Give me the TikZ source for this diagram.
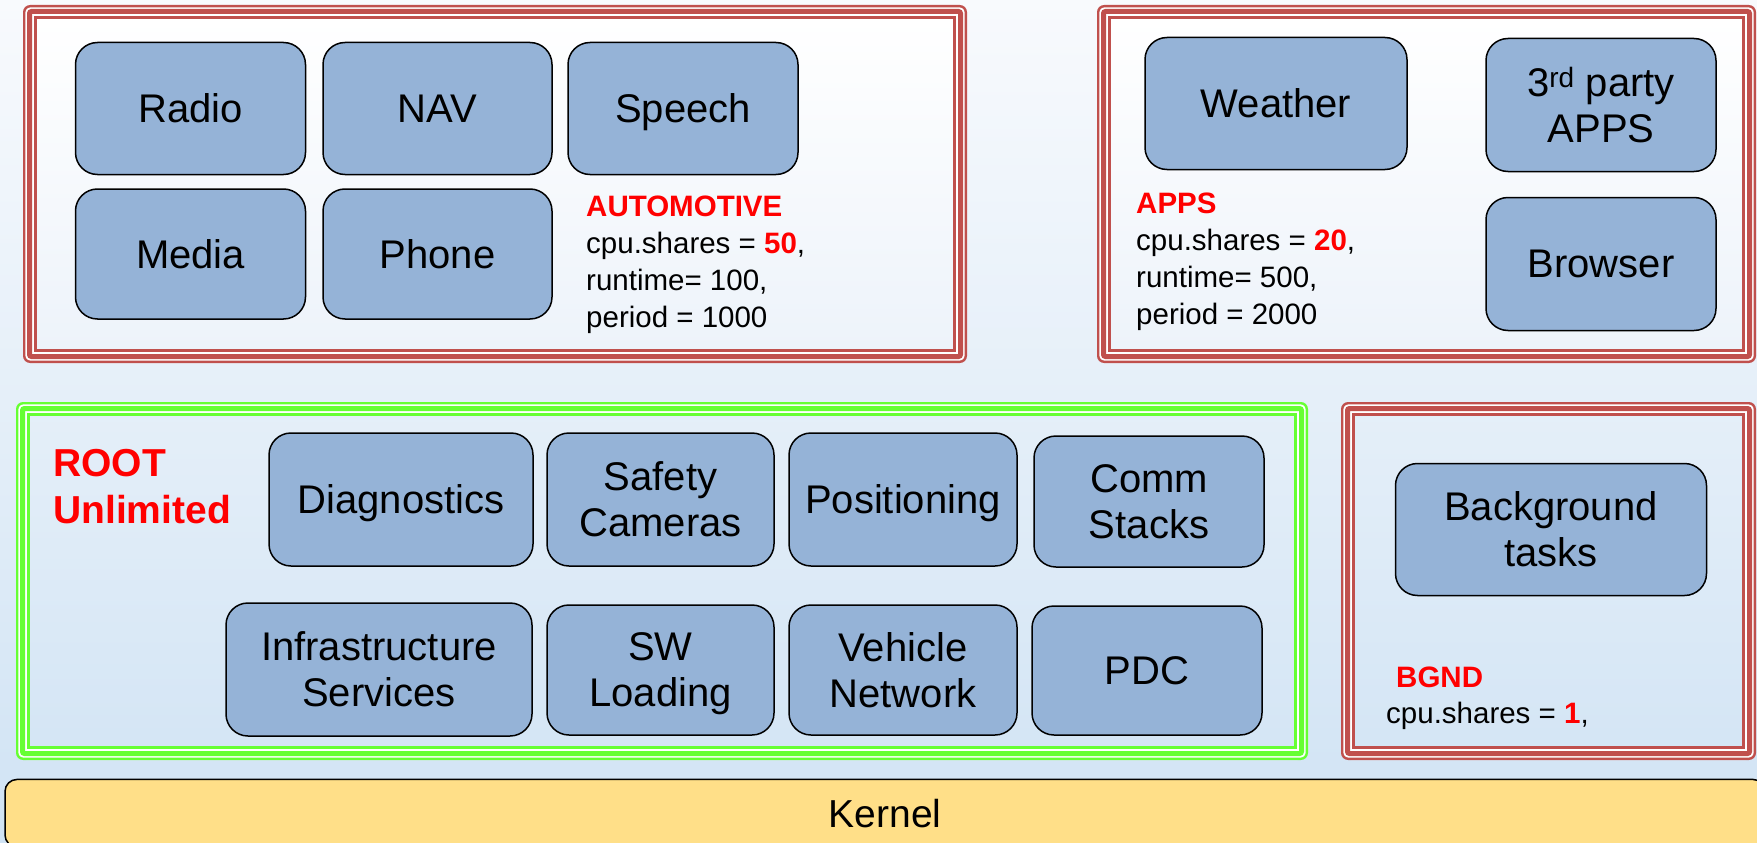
\documentclass[tikz,border=0pt]{standalone}
\usepackage{fontspec}
\setmainfont{Liberation Sans}
\usetikzlibrary{positioning}

\definecolor{bgtop}{HTML}{F8FAFD}
\definecolor{bgbottom}{HTML}{D0E3F4}
\definecolor{panelbottom}{HTML}{EDF3FA}
\definecolor{boxblue}{HTML}{95B3D7}
\definecolor{framered}{HTML}{C0504D}
\definecolor{framegreen}{HTML}{66FF33}
\definecolor{kernelyellow}{HTML}{FFDF88}
\definecolor{alertred}{HTML}{FF0000}

% three concentric lines round a group: x1 y1 x2 y2 colour
\newcommand{\tripleframe}[5]{%
  \draw[white, line width=13.6pt, rounded corners=5pt] ({#1+6.8},{#2+6.8}) rectangle ({#3-6.8},{#4-6.8});
  \draw[#5, line width=2.4pt, rounded corners=6pt] ({#1+1.2},{#2+1.2}) rectangle ({#3-1.2},{#4-1.2});
  \draw[#5, line width=5pt, rounded corners=2pt] ({#1+6.5},{#2+6.5}) rectangle ({#3-6.5},{#4-6.5});
  \draw[#5, line width=2.6pt] ({#1+12.3},{#2+12.3}) rectangle ({#3-12.3},{#4-12.3});
}

\begin{document}
\begin{tikzpicture}[x=1pt, y=-1pt,
  appbox/.style={draw=black, line width=1.5pt, fill=boxblue, rounded corners=22pt,
    align=center, inner sep=0pt, font=\fontsize{40}{46}\selectfont},
  flatbase/.style={text depth=0pt},
  infotext/.style={inner sep=0pt, align=left, anchor=north west,
    font=\fontsize{29.5}{37}\selectfont},
  grouptitle/.style={inner sep=0pt, anchor=base west, text=alertred,
    font=\fontsize{29.5}{37}\selectfont\bfseries},
  kernelbar/.style={draw=black, line width=1.5pt, fill=kernelyellow, rounded corners=12pt,
    inner sep=0pt, font=\fontsize{39}{46}\selectfont}
]
\useasboundingbox (0,0) rectangle (1757,843);

% backdrop
\shade[top color=bgtop, bottom color=bgbottom] (0,0) rectangle (1757,843);

% group frames
\shade[top color=white, bottom color=panelbottom] (36,18) rectangle (954,350);
\shade[top color=white, bottom color=panelbottom] (1110,18) rectangle (1742,350);
\tripleframe{23}{5}{967}{363}{framered}
\tripleframe{1097}{5}{1756}{363}{framered}
\tripleframe{16}{402}{1308}{760}{framegreen}
\tripleframe{1341}{402}{1756}{760}{framered}

% AUTOMOTIVE group
\node[appbox, minimum width=230pt, minimum height=132pt] (radio)  at (190.5,108.5) {Radio};
\node[appbox, minimum width=229pt, minimum height=132pt] (nav)    at (437.5,108.5) {NAV};
\node[appbox, flatbase, minimum width=230pt, minimum height=132pt] (speech) at (683,108.5) {Speech};
\node[appbox, minimum width=230pt, minimum height=130pt] (media)  at (190.5,254) {Media};
\node[appbox, minimum width=229pt, minimum height=130pt] (phone)  at (437.5,254) {Phone};
\node[infotext] (autoinfo) at (586,196)
  {\textcolor{alertred}{\textbf{AUTOMOTIVE}}\\
   cpu.shares = \textcolor{alertred}{\textbf{50}},\\
   runtime= 100,\\
   period = 1000};

% APPS group
\node[appbox, minimum width=262pt, minimum height=132pt] (weather) at (1276,103.5) {Weather};
\node[appbox, minimum width=230pt, minimum height=133pt] (thirdparty) at (1601,105) {3\textsuperscript{rd} party\\APPS};
\node[appbox, minimum width=230pt, minimum height=133pt] (browser) at (1601,264) {Browser};
\node[infotext] (appsinfo) at (1136,192.5)
  {\textcolor{alertred}{\textbf{APPS}}\\
   cpu.shares = \textcolor{alertred}{\textbf{20}},\\
   runtime= 500,\\
   period = 2000};

% ROOT group
\node[inner sep=0pt, anchor=north west, align=left, text=alertred,
  font=\fontsize{39}{47}\selectfont\bfseries] (rootinfo) at (53,449) {ROOT\\Unlimited};
\node[appbox, flatbase, minimum width=264pt, minimum height=133pt] (diag) at (401,499.5) {Diagnostics};
\node[appbox, minimum width=227pt, minimum height=133pt] (safety) at (660.5,499.5) {Safety\\Cameras};
\node[appbox, flatbase, minimum width=228pt, minimum height=133pt] (posn) at (903,499.5) {Positioning};
\node[appbox, minimum width=230pt, minimum height=131pt] (comm) at (1149,501.5) {Comm\\Stacks};
\node[appbox, minimum width=306pt, minimum height=133pt] (infra) at (379,669.5) {Infrastructure\\Services};
\node[appbox, flatbase, minimum width=227pt, minimum height=130pt] (swload) at (660.5,670) {SW\\Loading};
\node[appbox, minimum width=228pt, minimum height=130pt] (vnet) at (903,670) {Vehicle\\Network};
\node[appbox, minimum width=230pt, minimum height=129pt] (pdc) at (1147,670.5) {PDC};

% BGND group
\node[appbox, minimum width=311pt, minimum height=132pt] (bgtasks) at (1551,529.5) {Background\\tasks};
\node[grouptitle] (bgndtitle) at (1396,687) {BGND};
\node[inner sep=0pt, anchor=base west, font=\fontsize{29.5}{37}\selectfont] (bgndinfo) at (1386,723)
  {cpu.shares = \textcolor{alertred}{\textbf{1}},};

% kernel layer
\node[kernelbar, minimum width=1760pt, minimum height=67.5pt] (kernel) at (885,813.2) {Kernel};
\end{tikzpicture}
\end{document}
